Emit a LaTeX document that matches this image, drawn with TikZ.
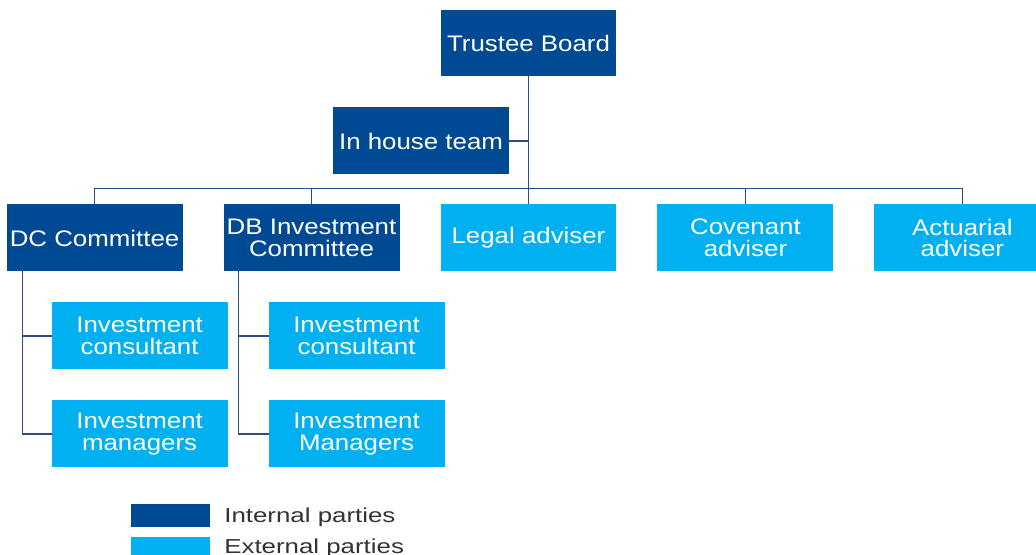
\documentclass[tikz,border=0pt]{standalone}
\usepackage{fontspec}
\setmainfont{Liberation Sans}[FakeStretch=1.15]
\newfontfamily\keyfont{Liberation Sans}[FakeStretch=1.28]
\usepackage{tikz}
\usetikzlibrary{positioning}

\definecolor{intblue}{RGB}{0,74,148}
\definecolor{extblue}{RGB}{0,176,240}
\definecolor{linkblue}{RGB}{45,75,135}
\definecolor{keytext}{RGB}{50,50,50}

\begin{document}
\begin{tikzpicture}[x=0.02cm,y=-0.02cm,
	party/.style={minimum width=3.52cm,minimum height=1.34cm,inner sep=1pt,outer sep=0pt,align=center,text=white,font=\fontsize{12.8}{12.5}\selectfont},
	intbox/.style={party,fill=intblue},
	extbox/.style={party,fill=extblue},
	keybox/.style={minimum width=1.58cm,minimum height=0.46cm,inner sep=0pt,outer sep=0pt},
	keylabel/.style={anchor=base west,inner sep=0pt,text=keytext,font=\keyfont\fontsize{11.5}{12}\selectfont},
	link/.style={draw=linkblue,line width=0.8pt},
	node distance=0.62cm and 0.82cm]
	\clip (0,0) rectangle (1036,555);
	
	\node[intbox] (trustee) at (528.5,43) {Trustee Board};
	\node[intbox,below=of trustee,xshift=-2.15cm] (inhouse) {In house team};
	\node[extbox,below=2.56cm of trustee] (legal) {Legal adviser};
	\node[intbox,left=of legal] (dbic) {DB Investment\\Committee};
	\node[intbox,left=of dbic] (dc) {DC Committee};
	\node[extbox,right=of legal] (cov) {Covenant\\adviser};
	\node[extbox,right=of cov] (act) {Actuarial\\adviser};
	
	\node[extbox,below=of dc,xshift=0.9cm] (dcic) {Investment\\consultant};
	\node[extbox,below=of dcic] (dcim) {Investment\\managers};
	\node[extbox,below=of dbic,xshift=0.9cm] (dbicic) {Investment\\consultant};
	\node[extbox,below=of dbicic] (dbicim) {Investment\\Managers};
	
	\coordinate[above=0.32cm of legal.north] (bus);
	\coordinate[xshift=0.32cm] (dcroot) at (dc.south west);
	\coordinate[xshift=0.3cm] (dbroot) at (dbic.south west);
	
	\draw[link] (trustee) -- (legal);
	\draw[link] (inhouse) -- (inhouse -| trustee);
	\draw[link] (dc) |- (bus) -| (act);
	\draw[link] (dbic) -- (dbic |- bus);
	\draw[link] (cov) -- (cov |- bus);
	\draw[link] (dcroot) |- (dcic);
	\draw[link] (dcroot) |- (dcim);
	\draw[link] (dbroot) |- (dbicic);
	\draw[link] (dbroot) |- (dbicim);
	
	% key
	\node[keybox,fill=intblue] (keyint) at (170.5,515.5) {};
	\node[keybox,fill=extblue,below=0.2cm of keyint] (keyext) {};
	\node[keylabel] (keyinttext) at ([xshift=0.28cm,yshift=-0.13cm]keyint.east) {Internal parties};
	\node[keylabel] (keyexttext) at ([xshift=0.28cm,yshift=-0.1cm]keyext.east) {External parties};
\end{tikzpicture}
\end{document}
